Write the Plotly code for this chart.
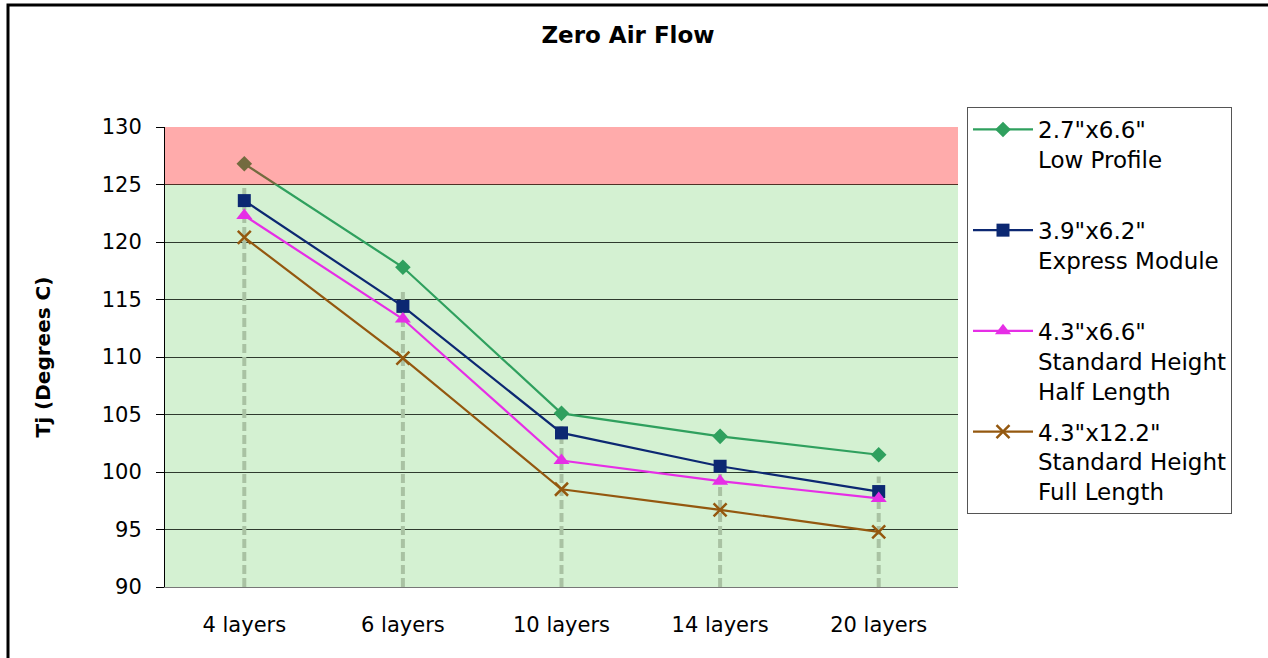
import plotly.graph_objects as go

categories = ["4 layers", "6 layers", "10 layers", "14 layers", "20 layers"]
low_profile = [126.8, 117.8, 105.1, 103.1, 101.5]
express_module = [123.6, 114.4, 103.4, 100.5, 98.3]
std_half = [122.3, 113.3, 101.0, 99.2, 97.7]
std_full = [120.4, 109.9, 98.5, 96.7, 94.8]
drop_top = [125.0, 116.0, 104.0, 100.6, 99.6]

series_names = [
    '2.7"x6.6"<br>Low Profile<br> ',
    '3.9"x6.2"<br>Express Module<br> ',
    '4.3"x6.6"<br>Standard Height<br>Half Length',
    '4.3"x12.2"<br>Standard Height<br>Full Length',
]
series_values = [low_profile, express_module, std_half, std_full]
series_colors = ["#2FA05E", "#0C2872", "#E62EE6", "#94580F"]
series_symbols = ["diamond", "square", "triangle-up", "x-thin"]
series_sizes = [12, 13, 14, 13]

y_min, y_max, warn = 90, 130, 125

W, H = 1268, 658
L, R, T, B = 165, 958, 127, 587


def px_x(p):
    return (p - L) / (R - L)


def px_y(p):
    return (B - p) / (B - T)


FONT = "DejaVu Sans"

fig = go.Figure()

# drop lines
dx, dy = [], []
for c, top in zip(categories, drop_top):
    dx += [c, c, None]
    dy += [y_min, top, None]
fig.add_trace(go.Scatter(
    x=dx, y=dy, mode="lines", showlegend=False, hoverinfo="skip",
    line=dict(color="#A9C2A3", width=4, dash="9px,4px"),
))

for name, vals, col, sym, sz in zip(series_names, series_values, series_colors,
                                    series_symbols, series_sizes):
    marker = dict(symbol=sym, size=sz, color=col)
    if sym == "x-thin":
        marker["line"] = dict(color=col, width=2.5)
    fig.add_trace(go.Scatter(
        x=categories, y=vals, name=name, mode="lines+markers",
        line=dict(color=col, width=2.2), marker=marker,
        legendgroup=name,
    ))

shapes = [
    dict(type="rect", xref="paper", yref="y", x0=0, x1=1, y0=y_min, y1=warn,
         fillcolor="#D4F1D2", line=dict(width=0), layer="below"),
    dict(type="rect", xref="paper", yref="y", x0=0, x1=1, y0=warn, y1=y_max,
         fillcolor="rgba(255,0,0,0.33)", line=dict(width=0), layer="above"),
    dict(type="rect", xref="paper", yref="paper",
         x0=px_x(8), x1=px_x(1300), y0=px_y(700), y1=px_y(5),
         line=dict(color="black", width=3), fillcolor="rgba(0,0,0,0)",
         layer="above"),
]

fig.update_layout(
    width=W, height=H,
    margin=dict(l=L, r=W - R, t=T, b=H - B),
    paper_bgcolor="white", plot_bgcolor="white",
    shapes=shapes,
    title=dict(text="<b>Zero Air Flow</b>", x=628 / W, xref="container",
               xanchor="center", y=1 - 35 / H, yref="container",
               yanchor="middle",
               font=dict(family=FONT, size=23, color="black")),
    legend=dict(
        x=px_x(967), y=px_y(107), xanchor="left", yanchor="top",
        bordercolor="#555555", borderwidth=1, bgcolor="white",
        font=dict(family=FONT, size=23, color="black"),
        valign="top", tracegroupgap=8, itemwidth=60, maxheight=1000,
    ),
    xaxis=dict(
        type="category", range=[-0.5, len(categories) - 0.5],
        showgrid=False, showline=True, linecolor="#777777", linewidth=1,
        ticks="", ticklabelstandoff=19,
        tickfont=dict(family=FONT, size=21, color="black"),
    ),
    yaxis=dict(
        range=[y_min, y_max], dtick=5, tick0=90,
        showgrid=True, gridcolor="#2E3B2E", gridwidth=1,
        showline=True, linecolor="black", linewidth=1, mirror=False,
        ticks="outside", ticklen=8, tickcolor="black",
        ticklabelstandoff=10,
        tickfont=dict(family=FONT, size=21, color="black"),
        title=dict(text="<b>Tj (Degrees C)</b>", standoff=45,
                   font=dict(family=FONT, size=20, color="black")),
        zeroline=False,
    ),
    showlegend=True,
)

fig.write_html(
    "out.html",
    config={"displayModeBar": False},
    post_script="document.body.style.margin='0';document.body.style.overflow='hidden';",
)
